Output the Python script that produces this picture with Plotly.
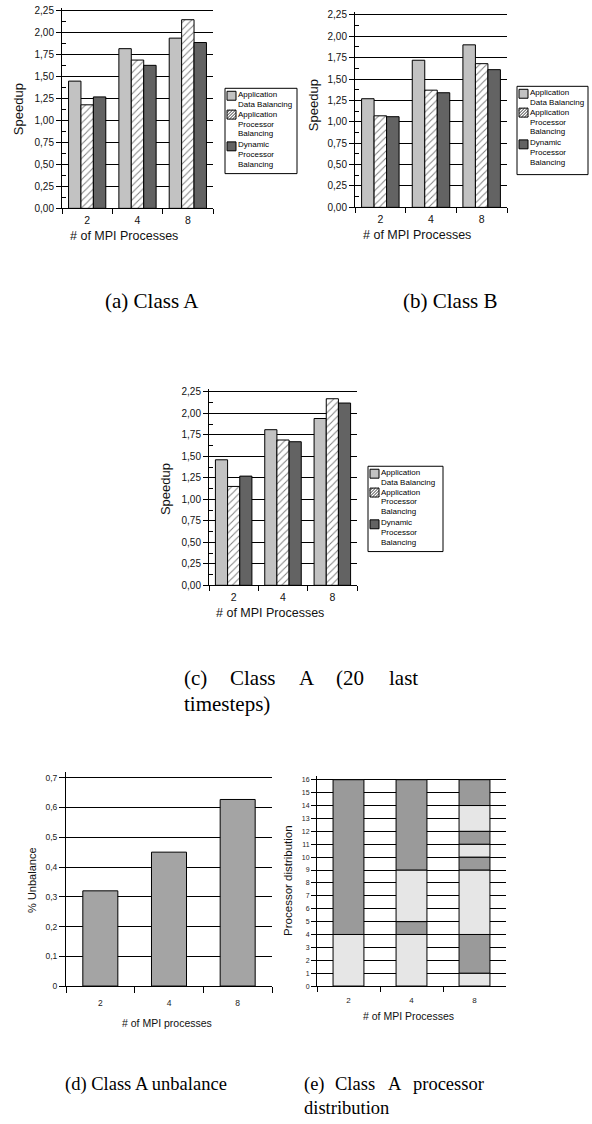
import plotly.graph_objects as go
import numpy as np

W, H = 592, 1124

# ---------------- data ----------------
processes = ["2", "4", "8"]
series_names = ["Application Data Balancing", "Application Processor Balancing",
                "Dynamic Processor Balancing"]

speedup_a_adb = [1.45, 1.82, 1.94]
speedup_a_apb = [1.18, 1.69, 2.15]
speedup_a_dpb = [1.27, 1.63, 1.89]

speedup_b_adb = [1.27, 1.72, 1.90]
speedup_b_apb = [1.07, 1.37, 1.68]
speedup_b_dpb = [1.06, 1.34, 1.61]

speedup_c_adb = [1.46, 1.81, 1.94]
speedup_c_apb = [1.15, 1.69, 2.17]
speedup_c_dpb = [1.27, 1.67, 2.12]

speedup_ticks = [0.0, 0.25, 0.5, 0.75, 1.0, 1.25, 1.5, 1.75, 2.0, 2.25]
speedup_ticktext = ["0,00", "0,25", "0,50", "0,75", "1,00", "1,25", "1,50", "1,75", "2,00", "2,25"]

unbalance = [0.32, 0.45, 0.627]
unbalance_ticks = [0.0, 0.1, 0.2, 0.3, 0.4, 0.5, 0.6, 0.7]
unbalance_ticktext = ["0", "0,1", "0,2", "0,3", "0,4", "0,5", "0,6", "0,7"]

procs_2 = [4, 12]
procs_4 = [4, 1, 4, 7]
procs_8 = [1, 3, 5, 1, 1, 1, 2, 2]
proc_ticks = list(range(0, 17))

legend_lines = [["Application", "Data Balancing"],
                ["Application", "Processor", "Balancing"],
                ["Dynamic", "Processor", "Balancing"]]

# ---------------- styles ----------------
SANS = "Liberation Sans, Arial, sans-serif"
SERIF = "Liberation Serif, Times New Roman, serif"
LIGHT = "#c2c2c2"
DARK = "#636363"
D_BAR = "#a4a4a4"
E_LIGHT = "#e6e6e6"
E_DARK = "#9a9a9a"


def fx(p):
    return p / W


def fy(p):
    return 1 - p / H


def ydom(p0, pref, vref, top):
    ppu = (p0 - pref) / vref
    return [fy(p0), fy(p0 - ppu * top)]


fig = go.Figure()

# ---------------- speedup panels ----------------
panels = [
    # (axis suffix, adb, apb, dpb, x0px, x1px, p0, p225, legend left, legend top, legend w, legend h)
    ("", speedup_a_adb, speedup_a_apb, speedup_a_dpb, 62, 213, 207, 8, 225, 86, 72, 86),
    ("2", speedup_b_adb, speedup_b_apb, speedup_b_dpb, 355, 507, 206, 12, 517, 84, 71, 89),
    ("3", speedup_c_adb, speedup_c_apb, speedup_c_dpb, 209, 357, 587, 392, 368, 467, 75, 86),
]

minor_vals = [v + 0.125 for v in speedup_ticks[:-1]]

shapes = []
annotations = []

for suf, adb, apb, dpb, x0, x1, p0, p225, lx, ly, lw, lh in panels:
    xa, ya = "x" + suf, "y" + suf
    fig.add_trace(go.Bar(x=processes, y=adb, name=series_names[0], xaxis=xa, yaxis=ya,
                         marker=dict(color=LIGHT, line=dict(color="black", width=1)),
                         showlegend=False))
    fig.add_trace(go.Bar(x=processes, y=apb, name=series_names[1], xaxis=xa, yaxis=ya,
                         marker=dict(color="white", line=dict(color="black", width=1),
                                     pattern=dict(shape="/", fgcolor="black", bgcolor="white",
                                                  size=5, solidity=0.2)),
                         showlegend=False))
    fig.add_trace(go.Bar(x=processes, y=dpb, name=series_names[2], xaxis=xa, yaxis=ya,
                         marker=dict(color=DARK, line=dict(color="black", width=1)),
                         showlegend=False))
    fig.layout["xaxis" + suf] = dict(
        domain=[fx(x0), fx(x1)], anchor=ya, type="category", range=[-0.5, 2.5],
        tickson="boundaries", ticks="outside", ticklen=5, tickcolor="black",
        ticklabelstandoff=2,
        showline=True, linecolor="black", linewidth=1, showgrid=False, zeroline=False,
        tickfont=dict(family=SANS, size=10.5, color="#111"))
    fig.layout["yaxis" + suf] = dict(
        domain=ydom(p0, p225, 2.25, 2.28), anchor=xa, range=[0, 2.28],
        tickmode="array", tickvals=speedup_ticks, ticktext=speedup_ticktext,
        ticks="outside", ticklen=5, tickcolor="black",
        minor=dict(tickmode="array", tickvals=minor_vals, ticks="inside", ticklen=4,
                   tickcolor="black", showgrid=False),
        showline=True, linecolor="black", linewidth=1,
        showgrid=True, gridcolor="black", gridwidth=1, zeroline=False,
        tickfont=dict(family=SANS, size=10, color="#111"))

    # legend (box, symbols, text)
    shapes.append(dict(type="rect", xref="paper", yref="paper",
                       x0=fx(lx), x1=fx(lx + lw), y0=fy(ly), y1=fy(ly + lh),
                       line=dict(color="black", width=1), fillcolor="white", layer="above"))
    sym_tops = [ly + 3, ly + 22, ly + 54]
    text_tops = [ly + 6, ly + 26, ly + 57]
    fills = [LIGHT, "white", DARK]
    s = 9
    sx = lx + 2
    for k in range(3):
        st = sym_tops[k]
        shapes.append(dict(type="rect", xref="paper", yref="paper",
                           x0=fx(sx), x1=fx(sx + s), y0=fy(st), y1=fy(st + s),
                           line=dict(color="black", width=1), fillcolor=fills[k], layer="above"))
        if k == 1:
            path = ""
            for t in np.arange(2.5, 2 * s, 3.0):
                if t <= s:
                    a = (sx, st + t)
                    b = (sx + t, st)
                else:
                    a = (sx + t - s, st + s)
                    b = (sx + s, st + t - s)
                path += "M %.5f %.5f L %.5f %.5f " % (fx(a[0]), fy(a[1]), fx(b[0]), fy(b[1]))
            shapes.append(dict(type="path", xref="paper", yref="paper", path=path,
                               line=dict(color="black", width=0.8), layer="above"))
        for j, line in enumerate(legend_lines[k]):
            annotations.append(dict(text=line, xref="paper", yref="paper",
                                    x=fx(sx + s + 1), y=fy(text_tops[k] + j * 10),
                                    xanchor="left", yanchor="middle", showarrow=False,
                                    borderpad=0,
                                    font=dict(family=SANS, size=8, color="black")))

# ---------------- (d) unbalance ----------------
fig.add_trace(go.Bar(x=processes, y=unbalance, xaxis="x4", yaxis="y4", width=0.51,
                     marker=dict(color=D_BAR, line=dict(color="black", width=1)),
                     showlegend=False))
fig.layout["xaxis4"] = dict(
    domain=[fx(66), fx(272)], anchor="y4", type="category", range=[-0.5, 2.5],
    tickson="boundaries", ticks="outside", ticklen=6, tickcolor="black",
    ticklabelstandoff=9,
    showline=True, linecolor="black", linewidth=1, showgrid=False, zeroline=False,
    tickfont=dict(family=SANS, size=8.5, color="#222"))
fig.layout["yaxis4"] = dict(
    domain=ydom(991, 781, 0.7, 0.72), anchor="x4", range=[0, 0.72],
    tickmode="array", tickvals=unbalance_ticks, ticktext=unbalance_ticktext,
    ticks="outside", ticklen=6, tickcolor="black",
    showline=True, linecolor="black", linewidth=1,
    showgrid=True, gridcolor="black", gridwidth=1, zeroline=False,
    tickfont=dict(family=SANS, size=8.5, color="#222"))

# ---------------- (e) processor distribution ----------------
for cat, segs in zip(processes, [procs_2, procs_4, procs_8]):
    base = np.concatenate([[0], np.cumsum(segs)[:-1]])
    cols = [E_LIGHT if i % 2 == 0 else E_DARK for i in range(len(segs))]
    fig.add_trace(go.Bar(x=[cat] * len(segs), y=segs, base=base, xaxis="x5", yaxis="y5",
                         width=0.49, offsetgroup="e",
                         marker=dict(color=cols, line=dict(color="black", width=1)),
                         showlegend=False))
fig.layout["xaxis5"] = dict(
    domain=[fx(317), fx(506)], anchor="y5", type="category", range=[-0.5, 2.5],
    tickson="boundaries", ticks="outside", ticklen=5, tickcolor="black",
    ticklabelstandoff=6,
    showline=True, linecolor="black", linewidth=1, showgrid=False, zeroline=False,
    tickfont=dict(family=SANS, size=8, color="#222"))
fig.layout["yaxis5"] = dict(
    domain=ydom(991, 783, 16, 16.3), anchor="x5", range=[0, 16.3],
    tickmode="array", tickvals=proc_ticks, ticktext=[str(v) for v in proc_ticks],
    ticks="outside", ticklen=5, tickcolor="black",
    showline=True, linecolor="black", linewidth=1,
    showgrid=True, gridcolor="black", gridwidth=1, zeroline=False,
    tickfont=dict(family=SANS, size=7, color="#222"))

# ---------------- axis titles ----------------
def ann(text, x, y, size, family=SANS, angle=0, xanchor="center", color="#111"):
    annotations.append(dict(text=text, xref="paper", yref="paper", x=fx(x), y=fy(y),
                            xanchor=xanchor, yanchor="middle", showarrow=False,
                            textangle=angle, font=dict(family=family, size=size, color=color)))


ann("Speedup", 18, 107, 13, angle=-90)
ann("Speedup", 313, 103, 13, angle=-90)
ann("Speedup", 165, 490, 13, angle=-90)
ann("# of MPI Processes", 124, 235, 12.5)
ann("# of MPI Processes", 417, 234, 12.5)
ann("# of MPI Processes", 270, 615, 12.5)
ann("% Unbalance", 32, 885, 11, angle=-90)
ann("# of MPI processes", 167, 1028, 10.5)
ann("Processor distribution", 288, 885, 11.5, angle=-90)
ann("# of MPI Processes", 408, 1021, 10.5)

# ---------------- captions ----------------
ann("(a) Class A", 152, 300, 21, family=SERIF, color="black")
ann("(b) Class B", 450, 300, 21, family=SERIF, color="black")
for word, left in [("(c)", 182), ("Class", 228), ("A", 297), ("(20", 334), ("last", 387)]:
    ann(word, left, 680, 21, family=SERIF, xanchor="left", color="black")
ann("timesteps)", 182, 707, 21, family=SERIF, xanchor="left", color="black")
ann("(d) Class A unbalance", 146, 1090, 18.5, family=SERIF, color="black")
for word, left in [("(e)", 302), ("Class", 333), ("A", 386), ("processor", 411)]:
    ann(word, left, 1090, 18.5, family=SERIF, xanchor="left", color="black")
ann("distribution", 302, 1114, 18.5, family=SERIF, xanchor="left", color="black")

fig.update_layout(
    width=W, height=H, autosize=False,
    margin=dict(l=0, r=0, t=0, b=0),
    paper_bgcolor="white", plot_bgcolor="white",
    barmode="group", bargap=0.26, bargroupgap=0.0,
    showlegend=False,
    shapes=shapes, annotations=annotations,
    font=dict(family=SANS, color="#111"),
)

fig.write_html("out.html", config={"displayModeBar": False},
               post_script="document.body.style.margin='0px';document.body.style.overflow='hidden';")
